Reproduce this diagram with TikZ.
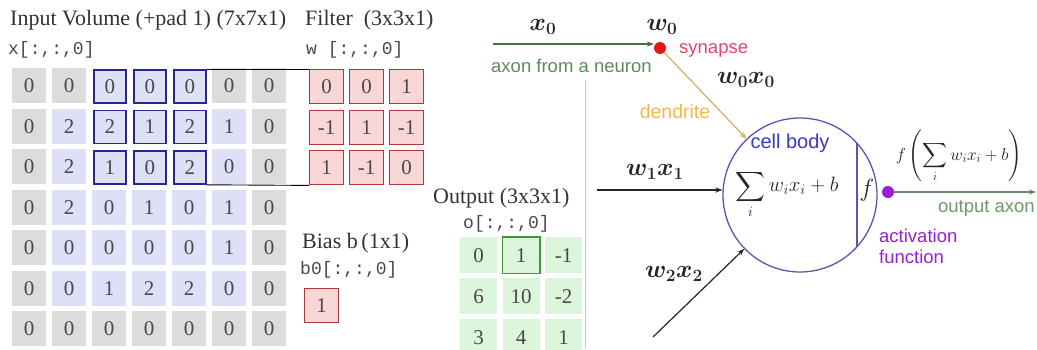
\documentclass[tikz,border=0pt]{standalone}
\usepackage{amsmath}
\usepackage{fontspec}
\setmainfont{Liberation Serif}
\setsansfont{Liberation Sans}
\setmonofont{Liberation Mono}
\usetikzlibrary{arrows.meta}
\definecolor{padgray}{HTML}{DCDCDC}
\definecolor{inblue}{HTML}{DDE0F6}
\definecolor{hlblue}{HTML}{28288C}
\definecolor{filfill}{HTML}{F8D6D6}
\definecolor{filbord}{HTML}{B03838}
\definecolor{outfill}{HTML}{DDF5DA}
\definecolor{outbord}{HTML}{3A9A3A}
\definecolor{numgray}{HTML}{484848}
\definecolor{bodyblue}{HTML}{5858B0}
\definecolor{synred}{HTML}{E01818}
\definecolor{synlab}{HTML}{E04868}
\definecolor{axgreen}{HTML}{5C8C5C}
\definecolor{axline}{HTML}{4C6A4C}
\definecolor{dendr}{HTML}{F0B848}
\definecolor{dendline}{HTML}{D4AC68}
\definecolor{cellblue}{HTML}{3838C8}
\definecolor{actpurple}{HTML}{9A1ED2}
\definecolor{outax}{HTML}{6A9A6A}
\definecolor{sepgray}{HTML}{C8C8D4}
\tikzset{
  numtxt/.style={text=numgray,font=\fontsize{21}{24}\selectfont,inner sep=0pt},
  cellbox/.style={numtxt,anchor=north west,minimum width=34pt,minimum height=35pt},
  filbox/.style={cellbox,fill=filfill,draw=filbord,line width=1.4pt,minimum width=34pt,minimum height=34pt},
  outbox/.style={cellbox,fill=outfill,minimum width=37pt,minimum height=36pt},
  title/.style={anchor=west,inner sep=0pt,text=black!80,font=\fontsize{22}{25}\selectfont},
  monolab/.style={anchor=west,inner sep=0pt,text=numgray,font=\ttfamily\fontsize{18}{22}\selectfont},
  sanslab/.style={inner sep=0pt,font=\sffamily\fontsize{18.5}{21}\selectfont},
  mathlab/.style={inner sep=0pt,text=black!85,font=\fontsize{25}{28}\selectfont\boldmath},
  conn/.style={line width=0.9pt},
}
\begin{document}
\begin{tikzpicture}[x=1pt,y=-1pt]
\useasboundingbox (0,0) rectangle (1037,349);
\fill[white] (0,0) rectangle (1037,349);
% ---------- titles ----------
\node[title] (tin) at (10,20) {Input Volume (+pad 1) (7x7x1)};
\node[title] (tfil) at (305,20) {Filter\ \ (3x3x1)};
\node[monolab] (xlab) at (8,50) {x[:,:,0]};
\node[monolab] (wlab) at (306,50) {w [:,:,0]};
% ---------- input volume ----------
\foreach \row [count=\r from 0] in {{0,0,0,0,0,0,0},{0,2,2,1,2,1,0},{0,2,1,0,2,0,0},{0,2,0,1,0,1,0},{0,0,0,0,0,1,0},{0,0,1,2,2,0,0},{0,0,0,0,0,0,0}}{
  \foreach \v [count=\c from 0] in \row {
    \pgfmathtruncatemacro\pad{(\r==0)||(\r==6)||(\c==0)||(\c==6)}
    \pgfmathtruncatemacro\hl{(\r<3)&&(\c>1)&&(\c<5)}
    \ifnum\hl=1
      \node[cellbox,fill=inblue,draw=hlblue,line width=1.8pt,minimum width=32pt,minimum height=33pt] (in-\r-\c) at (13+40*\c,69+40.5*\r) {\v};
    \else
      \ifnum\pad=1
        \node[cellbox,fill=padgray] (in-\r-\c) at (12+40*\c,68+40.5*\r) {\v};
      \else
        \node[cellbox,fill=inblue] (in-\r-\c) at (12+40*\c,68+40.5*\r) {\v};
      \fi
    \fi
  }
}
% ---------- filter ----------
\foreach \row [count=\r from 0] in {{0,0,1},{-1,1,-1},{1,-1,0}}{
  \foreach \v [count=\c from 0] in \row {
    \node[filbox] (w-\r-\c) at (309+40*\c,69+40.5*\r) {\v};
  }
}
\draw[conn] (in-0-4.north east) -- (w-0-0.north west);
\draw[conn] (in-2-4.south east) -- (w-2-0.south west);
% ---------- bias ----------
\node[title] (tbias) at (302,243) {Bias b\,(1x1)};
\node[monolab] (blab) at (300,270) {b0[:,:,0]};
\node[filbox] (b-0) at (304,288) {1};
% ---------- output ----------
\node[title] (tout) at (433,198) {Output (3x3x1)};
\node[monolab] (olab) at (463,224) {o[:,:,0]};
\foreach \row [count=\r from 0] in {{0,1,-1},{6,10,-2},{3,4,1}}{
  \foreach \v [count=\c from 0] in \row {
    \node[outbox] (o-\r-\c) at (460+42.5*\c,237+41*\r) {\v};
  }
}
\draw[outbord,line width=1.8pt] (o-0-1.north west) rectangle (o-0-1.south east);
% ---------- separator ----------
\coordinate (sepT) at (585,80);
\coordinate (sepB) at (585,349);
\draw[sepgray,line width=1pt] (sepT) -- (sepB);
% ---------- neuron ----------
\node[circle,draw=bodyblue,line width=1.3pt,minimum size=154pt,inner sep=0pt] (body) at (800,195) {};
\coordinate (chT) at (857,143.2);
\coordinate (chB) at (857,246.8);
\draw[bodyblue,line width=1.3pt] (chT) -- (chB);
\node[inner sep=0pt,text=black!85,font=\fontsize{22.5}{26}\selectfont] (sum) at (787,194) {$\displaystyle\sum_i w_i x_i + b$};
\node[inner sep=0pt,text=black!85,font=\fontsize{24}{26}\selectfont] (fsym) at (867,190) {$f$};
\node[sanslab,text=cellblue,font=\sffamily\fontsize{20}{22}\selectfont] (cbody) at (790,143) {cell body};
% synapse
\node[circle,fill=synred,minimum size=12pt,inner sep=0pt] (syn) at (660,48) {};
\coordinate (x0s) at (493,44);
\draw[axline,line width=1.2pt,-{Stealth[length=7pt]}] (x0s) -- (syn.west |- x0s);
\node[mathlab] (x0) at (543,27) {$x_0$};
\node[mathlab] (w0) at (662,27) {$w_0$};
\node[sanslab,text=synlab,anchor=west] (synl) at (679,50) {synapse};
\node[sanslab,text=axgreen,anchor=west] (axl) at (491,66) {axon from a neuron};
\node[mathlab] (w0x0) at (746,80) {$w_0x_0$};
\draw[dendline,line width=1.2pt,-{Stealth[length=7pt]}] (syn) -- (body);
\node[sanslab,text=dendr,font=\sffamily\fontsize{19.5}{22}\selectfont] (dend) at (675,112) {dendrite};
% w1x1
\coordinate (w1s) at (597,190);
\draw[black!85,line width=1.2pt,-{Stealth[length=7pt]}] (w1s) -- (body.west |- w1s);
\node[mathlab] (w1x1) at (655,172) {$w_1x_1$};
% w2x2
\coordinate (w2s) at (653,337);
\draw[black!85,line width=1.2pt,-{Stealth[length=7pt]}] (w2s) -- (body);
\node[mathlab] (w2x2) at (674,274) {$w_2x_2$};
% activation
\node[circle,fill=actpurple,minimum size=12pt,inner sep=0pt] (act) at (888,192) {};
\coordinate (outE) at (1036,192);
\draw[axline!80,line width=1.2pt,-{Stealth[length=7pt]}] (act) -- (outE);
\node[sanslab,text=outax,anchor=east] (outl) at (1035,208) {output axon};
\node[sanslab,text=actpurple,anchor=west,align=left] (actl) at (879,246) {activation\\function};
\node[inner sep=0pt,text=black!85,font=\fontsize{16.5}{19}\selectfont] (fout) at (959,156) {$f\left(\displaystyle\sum_i w_i x_i + b\right)$};
\end{tikzpicture}
\end{document}
